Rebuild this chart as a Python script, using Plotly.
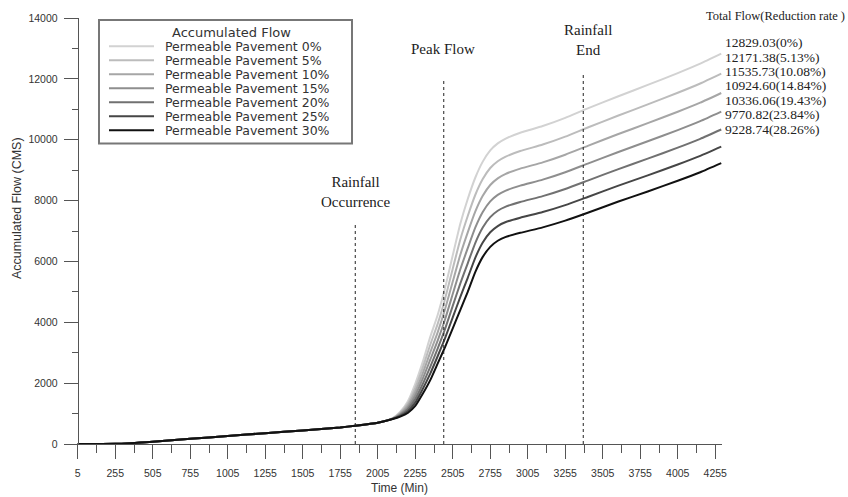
import plotly.graph_objects as go

# ---------------- data ----------------
time_min = [5, 255, 505, 755, 1005, 1255, 1505, 1755, 1855, 2005,
            2105, 2155, 2205, 2255, 2305, 2355, 2405, 2455, 2505, 2555,
            2605, 2655, 2705, 2755, 2805, 2855, 2955, 3105, 3255, 3405,
            3605, 3805, 4005, 4155, 4295]

early = [0, 5, 75, 170, 265, 355, 445, 545, 600, 700]

pp_0 = early + [850, 1060, 1400, 1980, 2700, 3520, 4250, 5150, 6200, 7230,
                8050, 8750, 9280, 9650, 9880, 10030, 10230, 10450, 10720, 11030,
                11420, 11800, 12190, 12500, 12829.03]
pp_5 = early + [845, 1031, 1330, 1846, 2508, 3260, 3957, 4793, 5761, 6712,
                7492, 8183, 8707, 9070, 9294, 9439, 9628, 9841, 10101, 10402,
                10787, 11160, 11542, 11847, 12171.38]
pp_10 = early + [839, 1003, 1264, 1718, 2323, 3010, 3676, 4450, 5338, 6214,
                 6955, 7637, 8156, 8512, 8731, 8870, 9049, 9255, 9507, 9799,
                 10178, 10544, 10919, 11218, 11535.73]
pp_15 = early + [834, 975, 1199, 1594, 2145, 2769, 3404, 4118, 4930, 5733,
                 6437, 7110, 7624, 7973, 8187, 8321, 8490, 8688, 8932, 9215,
                 9590, 9949, 10317, 10611, 10924.60]
pp_20 = early + [829, 949, 1137, 1475, 1973, 2537, 3143, 3801, 4539, 5272,
                 5939, 6605, 7114, 7456, 7666, 7795, 7953, 8146, 8381, 8656,
                 9026, 9378, 9740, 10030, 10336.06]
pp_25 = early + [825, 924, 1077, 1360, 1809, 2314, 2892, 3494, 4162, 4827,
                 5461, 6118, 6623, 6958, 7163, 7288, 7437, 7623, 7850, 8118,
                 8482, 8829, 9185, 9469, 9770.82]
pp_30 = early + [820, 900, 1020, 1250, 1650, 2100, 2650, 3200, 3800, 4400,
                 5000, 5650, 6150, 6480, 6680, 6800, 6940, 7120, 7340, 7600,
                 7960, 8300, 8650, 8930, 9228.74]

series_values = [pp_0, pp_5, pp_10, pp_15, pp_20, pp_25, pp_30]
series_names = ["Permeable Pavement 0%", "Permeable Pavement 5%",
                 "Permeable Pavement 10%", "Permeable Pavement 15%",
                 "Permeable Pavement 20%", "Permeable Pavement 25%",
                 "Permeable Pavement 30%"]
series_colors = ["#d2d2d2", "#bcbcbc", "#a6a6a6", "#8e8e8e",
                 "#717171", "#464646", "#111111"]
total_labels = ["12829.03(0%)", "12171.38(5.13%)", "11535.73(10.08%)",
                "10924.60(14.84%)", "10336.06(19.43%)", "9770.82(23.84%)",
                "9228.74(28.26%)"]

x_ticks = list(range(5, 4256, 250))
y_ticks = list(range(0, 14001, 2000))

event_labels = ["Rainfall<br>Occurrence", "Peak Flow", "Rainfall<br>End"]
event_times = [1855, 2445, 3375]
event_line_tops = [7250, 12000, 12200]

# ---------------- figure ----------------
W, H = 848, 497
ML, MR, MT, MB = 65, 126, 16, 53
PW, PH = W - ML - MR, H - MT - MB
X_RANGE = [-80, 4300]


def px_x(px):
    return (px - ML) / PW


def px_y(py):
    return (H - MB - py) / PH


fig = go.Figure()
for name, vals, col in zip(series_names, series_values, series_colors):
    fig.add_trace(go.Scatter(x=time_min, y=vals, mode="lines", name=name,
                             line=dict(color=col, width=2, shape="spline",
                                       smoothing=0.5),
                             showlegend=False))

shapes = []
annotations = []

# event dotted lines + labels
label_pos = [(8276, 1855), (12997, 2438), (13281, 3408)]
for lab, t, top, (ly, lx) in zip(event_labels, event_times, event_line_tops, label_pos):
    shapes.append(dict(type="line", xref="x", yref="y", x0=t, x1=t, y0=0, y1=top,
                       line=dict(color="#222222", width=1, dash="dot")))
    annotations.append(dict(text=lab, xref="x", yref="y", x=lx, y=ly,
                            showarrow=False, xanchor="center", yanchor="middle",
                            font=dict(family="Liberation Serif", size=15,
                                      color="#222222")))

# right-hand totals
annotations.append(dict(text="Total Flow(Reduction rate )", xref="paper", yref="paper",
                        x=px_x(704), y=px_y(14.3), xanchor="left", yanchor="middle",
                        showarrow=False,
                        font=dict(family="Liberation Serif", size=12.5, color="#222222")))
for i, lab in enumerate(total_labels):
    annotations.append(dict(text=lab, xref="paper", yref="paper",
                            x=px_x(722.5), y=px_y(40.7 + 14.5 * i),
                            xanchor="left", yanchor="middle", showarrow=False,
                            font=dict(family="Liberation Serif", size=13.5,
                                      color="#222222")))

# custom legend
shapes.append(dict(type="rect", xref="paper", yref="paper",
                   x0=px_x(99), x1=px_x(352), y0=px_y(142), y1=px_y(18),
                   line=dict(color="#777777", width=2), fillcolor="white",
                   layer="above"))
annotations.append(dict(text="Accumulated Flow", xref="paper", yref="paper",
                        x=px_x(231), y=px_y(30.7), xanchor="center", yanchor="middle",
                        showarrow=False,
                        font=dict(family="DejaVu Sans", size=13, color="#333333")))
for i, (name, col) in enumerate(zip(series_names, series_colors)):
    yy = px_y(44.3 + 14.1 * i)
    shapes.append(dict(type="line", xref="paper", yref="paper",
                       x0=px_x(109), x1=px_x(154), y0=yy, y1=yy,
                       line=dict(color=col, width=2), layer="above"))
    annotations.append(dict(text=name, xref="paper", yref="paper",
                            x=px_x(163), y=yy, xanchor="left", yanchor="middle",
                            showarrow=False,
                            font=dict(family="DejaVu Sans", size=12.5,
                                      color="#333333")))

# axis titles
annotations.append(dict(text="Time (Min)", xref="paper", yref="paper",
                        x=px_x(399), y=px_y(488), xanchor="center", yanchor="middle",
                        showarrow=False,
                        font=dict(family="Liberation Sans", size=12, color="#333333")))
annotations.append(dict(text="Accumulated Flow (CMS)", xref="paper", yref="paper",
                        x=px_x(17), y=px_y(207), xanchor="center", yanchor="middle",
                        textangle=-90, showarrow=False,
                        font=dict(family="Liberation Sans", size=12.5, color="#333333")))

axis_col = "#555555"
fig.update_layout(
    width=W, height=H,
    margin=dict(l=ML, r=MR, t=MT, b=MB, pad=0),
    paper_bgcolor="white", plot_bgcolor="white",
    shapes=shapes, annotations=annotations,
    xaxis=dict(range=X_RANGE, tickvals=x_ticks, ticktext=[str(v) for v in x_ticks],
               ticks="outside", ticklen=14, tickwidth=1, tickcolor=axis_col,
               showline=True, linecolor=axis_col, linewidth=1,
               showgrid=False, zeroline=False, ticklabelstandoff=5,
               minor=dict(tick0=5, dtick=125, ticks="outside", ticklen=8,
                          tickwidth=1, tickcolor=axis_col, showgrid=False),
               tickfont=dict(family="Liberation Sans", size=10.5, color="#333333")),
    yaxis=dict(range=[0, 14000], tickvals=y_ticks, ticktext=[str(v) for v in y_ticks],
               anchor="free", position=(5 - X_RANGE[0]) / (X_RANGE[1] - X_RANGE[0]),
               ticks="outside", ticklen=14, tickwidth=1, tickcolor=axis_col,
               showline=True, linecolor=axis_col, linewidth=1,
               showgrid=False, zeroline=False, ticklabelstandoff=4,
               minor=dict(tick0=0, dtick=1000, ticks="outside", ticklen=6,
                          tickwidth=1, tickcolor=axis_col, showgrid=False),
               tickfont=dict(family="Liberation Sans", size=10.5, color="#333333")),
)

fig.write_html("out.html")
